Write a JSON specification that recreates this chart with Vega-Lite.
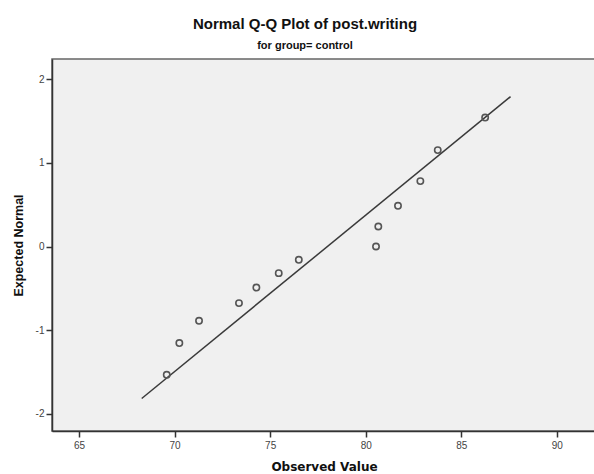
{
  "$schema": "https://vega.github.io/schema/vega-lite/v6.json",
  "autosize": "none",
  "width": 544,
  "height": 372,
  "padding": {"left": 52, "top": 59, "right": 0, "bottom": 43},
  "background": "white",
  "config": {
    "font": "Liberation Sans",
    "view": {"fill": "#f0f0f0", "stroke": "#666", "strokeWidth": 1.5}
  },
  "title": {
    "text": "Normal Q-Q Plot of post.writing",
    "subtitle": "for group= control",
    "anchor": "middle",
    "frame": "group",
    "dx": -19,
    "fontSize": 15,
    "fontWeight": "bold",
    "color": "#111",
    "subtitleFontSize": 11,
    "subtitleFontWeight": "bold",
    "subtitleColor": "#111",
    "subtitlePadding": 8,
    "offset": 8
  },
  "datasets": {
    "pts": [
      {"observed": 69.59, "expected": -1.532},
      {"observed": 70.25, "expected": -1.153},
      {"observed": 71.28, "expected": -0.887},
      {"observed": 73.37, "expected": -0.676},
      {"observed": 74.28, "expected": -0.490},
      {"observed": 75.45, "expected": -0.318},
      {"observed": 76.50, "expected": -0.159},
      {"observed": 80.54, "expected": 0.0},
      {"observed": 80.66, "expected": 0.239},
      {"observed": 81.69, "expected": 0.486},
      {"observed": 82.86, "expected": 0.781},
      {"observed": 83.77, "expected": 1.151},
      {"observed": 86.25, "expected": 1.540}
    ],
    "ref": [
      {"observed": 68.28, "expected": -1.815},
      {"observed": 87.58, "expected": 1.79}
    ]
  },
  "layer": [
    {
      "data": {"name": "ref"},
      "mark": {"type": "line", "color": "#3a3a3a", "strokeWidth": 1.5},
      "encoding": {
        "x": {"field": "observed", "type": "quantitative"},
        "y": {"field": "expected", "type": "quantitative"}
      }
    },
    {
      "data": {"name": "pts"},
      "mark": {"type": "point", "shape": "circle", "filled": false, "color": "#555", "strokeWidth": 1.6, "size": 40, "opacity": 1},
      "encoding": {
        "x": {
          "field": "observed", "type": "quantitative",
          "scale": {"domain": [63.587, 92.05], "nice": false, "zero": false},
          "axis": {
            "title": "Observed Value", "values": [65, 70, 75, 80, 85, 90],
            "grid": false, "domainColor": "#333", "domainWidth": 1.5,
            "tickColor": "#333", "tickSize": 6, "tickWidth": 1.5,
            "labelFontSize": 10, "labelColor": "#444", "labelPadding": 3,
            "titleFont": "DejaVu Sans", "titleFontSize": 12, "titleFontWeight": "bold", "titleColor": "#111", "titlePadding": 11
          }
        },
        "y": {
          "field": "expected", "type": "quantitative",
          "scale": {"domain": [-2.203, 2.239], "nice": false, "zero": false},
          "axis": {
            "title": "Expected Normal", "values": [-2, -1, 0, 1, 2],
            "labelExpr": "'' + datum.value",
            "grid": false, "domainColor": "#333", "domainWidth": 1.5,
            "tickColor": "#333", "tickSize": 6, "tickWidth": 1.5,
            "labelFontSize": 10, "labelColor": "#444", "labelPadding": 2,
            "titleFontSize": 12.5, "titleFontWeight": "bold", "titleColor": "#111", "titlePadding": 10
          }
        }
      }
    }
  ]
}
